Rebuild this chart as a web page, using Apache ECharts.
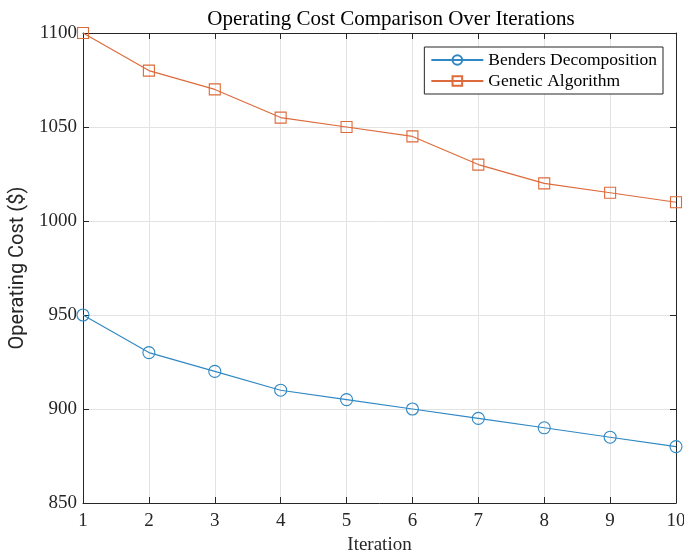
<!DOCTYPE html>
<html>
<head>
<meta charset="utf-8">
<script src="https://cdn.jsdelivr.net/npm/echarts@6/dist/echarts.min.js"></script>
<style>
  html, body { margin: 0; padding: 0; background: #fff; }
  #chart { width: 684px; height: 556px; }
</style>
</head>
<body>
<div id="chart"></div>
<script>
const iterations = [1, 2, 3, 4, 5, 6, 7, 8, 9, 10];
const bendersCost = [950, 930, 920, 910, 905, 900, 895, 890, 885, 880];
const geneticCost = [1100, 1080, 1070, 1055, 1050, 1045, 1030, 1020, 1015, 1010];

const serif = '"Liberation Serif", "DejaVu Serif", serif';
const axisColor = '#262626';
const blue = '#2f88c4';
const orange = '#dd6a3a';

const chart = echarts.init(document.getElementById('chart'));

function pairs(ys) {
    return iterations.map((x, i) => [x, ys[i]]);
}

chart.setOption({
    animation: false,
    backgroundColor: '#fff',
    title: {
        text: 'Operating Cost Comparison Over Iterations',
        left: 386, top: 4, textAlign: 'center',
        textStyle: { fontFamily: serif, fontSize: 21, fontWeight: 'normal', color: '#000' }
    },
    legend: {
        right: 21, top: 47,
        orient: 'vertical',
        backgroundColor: '#fff',
        borderColor: axisColor, borderWidth: 1,
        padding: [4, 6, 4, 6],
        itemGap: 3,
        itemWidth: 52, itemHeight: 12,
        textStyle: { fontFamily: serif, fontSize: 17.5, color: '#000' },
        data: ['Benders Decomposition', 'Genetic Algorithm']
    },
    grid: { left: 83, right: 8, top: 33, bottom: 53, containLabel: false, outerBoundsMode: 'none' },
    xAxis: [{
        type: 'value', min: 1, max: 10, interval: 1,
        name: 'Iteration', nameLocation: 'middle', nameGap: 33,
        nameTextStyle: { fontFamily: serif, fontSize: 19, color: '#262626' },
        axisLine: { show: true, lineStyle: { color: axisColor } },
        axisTick: { inside: true, length: 6, lineStyle: { color: axisColor } },
        axisLabel: { fontFamily: serif, fontSize: 19, color: '#262626', margin: 9 },
        splitLine: { show: true, lineStyle: { color: '#e3e3e3' } }
    }, {
        type: 'value', min: 1, max: 10, interval: 1, position: 'top',
        axisLine: { show: true, lineStyle: { color: axisColor } },
        axisTick: { inside: true, length: 6, lineStyle: { color: axisColor } },
        axisLabel: { show: false }, splitLine: { show: false }
    }],
    yAxis: [{
        type: 'value', min: 850, max: 1100, interval: 50,
        name: 'Operating Cost ($)', nameLocation: 'middle', nameGap: 50,
        nameTextStyle: { fontFamily: 'Roboto, "Liberation Sans", sans-serif', fontSize: 20, color: '#262626' },
        axisLine: { show: true, lineStyle: { color: axisColor } },
        axisTick: { inside: true, length: 6, lineStyle: { color: axisColor } },
        axisLabel: { fontFamily: serif, fontSize: 19, color: '#262626', margin: 6,
                     formatter: v => String(v) },
        splitLine: { show: true, lineStyle: { color: '#e3e3e3' } }
    }, {
        type: 'value', min: 850, max: 1100, interval: 50, position: 'right',
        axisLine: { show: true, lineStyle: { color: axisColor } },
        axisTick: { inside: true, length: 6, lineStyle: { color: axisColor } },
        axisLabel: { show: false }, splitLine: { show: false }
    }],
    series: [{
        name: 'Benders Decomposition',
        type: 'line',
        data: pairs(bendersCost),
        symbol: 'circle', symbolSize: 12,
        color: blue,
        lineStyle: { width: 1.1, color: blue },
        itemStyle: { color: 'rgba(0,0,0,0)', borderColor: blue, borderWidth: 1.1 }
    }, {
        name: 'Genetic Algorithm',
        type: 'line',
        data: pairs(geneticCost),
        symbol: 'rect', symbolSize: 11,
        color: orange,
        lineStyle: { width: 1.1, color: orange },
        itemStyle: { color: 'rgba(0,0,0,0)', borderColor: orange, borderWidth: 1.1 }
    }]
});
</script>
</body>
</html>
